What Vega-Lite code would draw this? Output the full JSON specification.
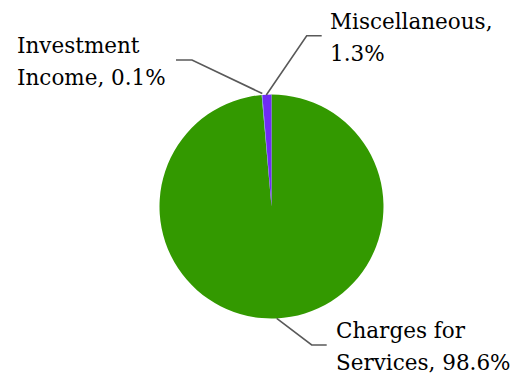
{
  "$schema": "https://vega.github.io/schema/vega-lite/v6.json",
  "width": 513,
  "height": 374,
  "autosize": {"type": "none"},
  "padding": 0,
  "background": "white",
  "config": {"view": {"stroke": null}},
  "datasets": {
    "revenue": [
      {"source": "Charges for Services", "share": 98.6},
      {"source": "Investment Income", "share": 0.1},
      {"source": "Miscellaneous", "share": 1.3}
    ],
    "leaders": [
      {"source": "Investment Income", "step": 1, "u": -0.0821, "v": 1.009},
      {"source": "Investment Income", "step": 2, "u": -0.7098, "v": 1.308},
      {"source": "Investment Income", "step": 3, "u": -0.8527, "v": 1.308},
      {"source": "Miscellaneous", "step": 1, "u": -0.0464, "v": 0.9955},
      {"source": "Miscellaneous", "step": 2, "u": 0.3143, "v": 1.525},
      {"source": "Miscellaneous", "step": 3, "u": 0.4482, "v": 1.525},
      {"source": "Charges for Services", "step": 1, "u": 0.0464, "v": -0.998},
      {"source": "Charges for Services", "step": 2, "u": 0.3589, "v": -1.2366},
      {"source": "Charges for Services", "step": 3, "u": 0.4929, "v": -1.2366}
    ],
    "labels": [
      {"label": ["Investment", "Income, 0.1%"], "u": -2.2723, "v": 1.3679},
      {"label": ["Miscellaneous,", "1.3%"], "u": 0.5223, "v": 1.5848},
      {"label": ["Charges for", "Services, 98.6%"], "u": 0.5759, "v": -1.1768}
    ]
  },
  "layer": [
    {
      "data": {"name": "revenue"},
      "mark": {"type": "arc", "outerRadius": 112},
      "encoding": {
        "x": {"datum": 0, "type": "quantitative", "scale": {"domain": [-2.4241, 2.1563], "nice": false, "zero": false}, "axis": null},
        "y": {"datum": 0, "type": "quantitative", "scale": {"domain": [-1.4955, 1.84375], "nice": false, "zero": false}, "axis": null},
        "theta": {"field": "share", "type": "quantitative", "stack": true},
        "color": {
          "field": "source",
          "type": "nominal",
          "scale": {
            "domain": ["Charges for Services", "Investment Income", "Miscellaneous"],
            "range": ["#339900", "#5B9BD5", "#6F2CF5"]
          },
          "legend": null
        }
      }
    },
    {
      "data": {"name": "leaders"},
      "mark": {"type": "line", "color": "#595959", "strokeWidth": 1.6},
      "encoding": {
        "x": {"field": "u", "type": "quantitative", "axis": null},
        "y": {"field": "v", "type": "quantitative", "axis": null},
        "detail": {"field": "source"},
        "order": {"field": "step"}
      }
    },
    {
      "data": {"name": "labels"},
      "mark": {
        "type": "text",
        "align": "left",
        "baseline": "alphabetic",
        "font": "DejaVu Serif",
        "fontSize": 21.5,
        "lineHeight": 32,
        "color": "black"
      },
      "encoding": {
        "x": {"field": "u", "type": "quantitative", "axis": null},
        "y": {"field": "v", "type": "quantitative", "axis": null},
        "text": {"field": "label"}
      }
    }
  ],
  "resolve": {"scale": {"color": "independent"}}
}
